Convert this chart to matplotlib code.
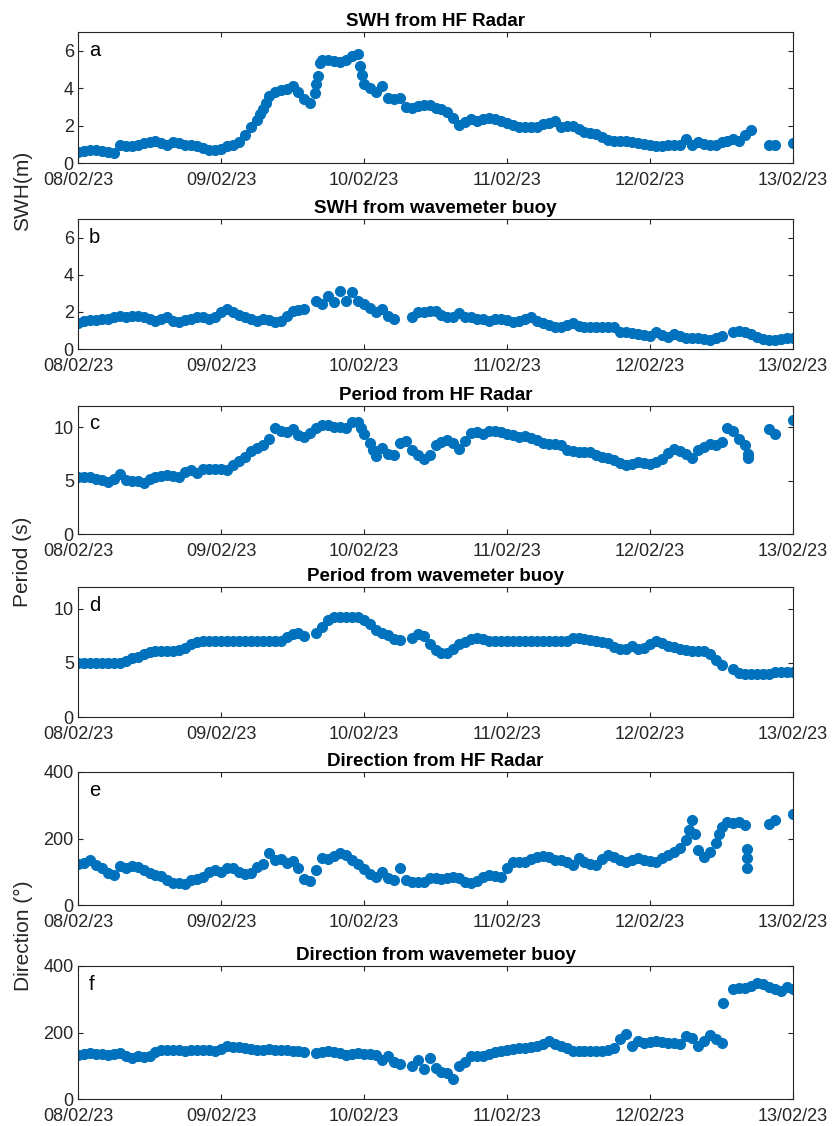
import numpy as np
import pandas as pd
import matplotlib
matplotlib.use("Agg")
import matplotlib.pyplot as plt
import matplotlib.dates as mdates

plt.rcParams['font.family'] = ['Liberation Sans', 'DejaVu Sans']

# hourly samples from 08/02/23 00:00 to 13/02/23 00:00 (121 values), nan = no data
swh_radar = [0.6, 0.65, 0.7, 0.7, 0.65, 0.6, 0.55, 0.95, 0.9, 0.9,
             0.95, 1.05, 1.1, 1.15, 1.05, 0.95, 1.1, 1.05, 0.95, 0.95,
             0.9, 0.8, 0.7, 0.7, 0.75, 0.9, 0.95, 1.1, 1.5, 1.9,
             2.3, 2.9, 3.6, 3.8, 3.9, 3.95, 4.1, 3.8, 3.4, 3.2,
             4.2, 5.5, 5.5, 5.45, 5.4, 5.5, 5.7, 5.85, 4.2, 4.0,
             3.8, 4.1, 3.5, 3.4, 3.45, 3.0, 2.95, 3.05, 3.1, 3.1,
             2.95, 2.9, 2.7, 2.4, 2.05, 2.2, 2.35, 2.25, 2.35, 2.4,
             2.35, 2.25, 2.15, 2.05, 1.9, 1.9, 1.95, 1.95, 2.1, 2.15,
             2.25, 1.95, 2.0, 2.0, 1.8, 1.65, 1.6, 1.55, 1.4, 1.25,
             1.2, 1.2, 1.2, 1.1, 1.05, 1.0, 0.95, 0.9, 0.9, 0.95,
             0.95, 0.98, 1.3, 0.95, 1.1, 1.0, 0.95, 0.95, 1.1, 1.15,
             1.3, 1.15, 1.5, 1.75, np.nan, np.nan, 0.97, 0.97, np.nan, np.nan, 1.05]
swh_radar_xh = [30.5, 31.5, 39.7, 40.3, 40.6, 47.3, 47.6]
swh_radar_x = [2.6, 3.2, 3.75, 4.65, 5.35, 5.2, 4.7]

swh_buoy = [1.39, 1.5, 1.55, 1.57, 1.6, 1.62, 1.75, 1.8, 1.75, 1.78,
            1.8, 1.7, 1.6, 1.53, 1.6, 1.7, 1.5, 1.44, 1.55, 1.62,
            1.7, 1.7, 1.62, 1.75, 1.98, 2.16, 2.0, 1.85, 1.7, 1.6,
            1.53, 1.6, 1.55, 1.44, 1.53, 1.8, 2.07, 2.1, 2.16, np.nan,
            2.6, 2.43, 2.88, 2.52, 3.15, 2.6, 3.06, 2.6, 2.4, 2.2,
            1.98, 2.16, 1.8, 1.62, np.nan, np.nan, 1.7, 1.98, 2.0, 2.05,
            2.07, 1.85, 1.75, 1.7, 1.93, 1.75, 1.7, 1.62, 1.6, 1.53,
            1.6, 1.62, 1.55, 1.44, 1.53, 1.6, 1.7, 1.5, 1.39, 1.3,
            1.2, 1.17, 1.3, 1.39, 1.25, 1.2, 1.2, 1.2, 1.2, 1.2,
            1.2, 0.94, 0.9, 0.85, 0.8, 0.77, 0.72, 0.9, 0.75, 0.67,
            0.81, 0.7, 0.6, 0.6, 0.58, 0.55, 0.49, 0.6, 0.72, np.nan,
            0.9, 0.95, 0.9, 0.8, 0.65, 0.55, 0.49, 0.5, 0.54, 0.58, 0.6]
swh_buoy_xh = []
swh_buoy_x = []

period_radar = [5.36, 5.36, 5.3, 5.2, 5.1, 4.9, 5.2, 5.67, 5.1, 5.0,
                4.95, 4.8, 5.2, 5.3, 5.4, 5.5, 5.4, 5.3, 5.8, 6.0,
                5.75, 6.1, 6.05, 6.05, 6.14, 6.0, 6.5, 6.8, 7.2, 7.8,
                8.1, 8.3, 8.9, 9.9, 9.7, 9.6, 9.8, 9.3, 9.1, 9.5,
                9.9, 10.2, 10.2, 10.0, 10.0, 9.95, 10.5, 10.5, 9.4, 8.5,
                7.3, 8.1, 7.5, 7.4, 8.5, 8.7, 7.85, 7.4, 7.0, 7.4,
                8.3, 8.6, 8.8, 8.5, 8.0, 8.7, 9.5, 9.6, 9.4, 9.7,
                9.65, 9.6, 9.4, 9.3, 9.1, 9.2, 9.0, 8.8, 8.5, 8.4,
                8.4, 8.3, 7.9, 7.8, 7.7, 7.7, 7.7, 7.4, 7.2, 7.1,
                6.9, 6.7, 6.5, 6.6, 6.76, 6.65, 6.6, 6.76, 7.0, 7.6,
                8.0, 7.8, 7.5, 7.1, 7.9, 8.2, 8.4, 8.3, 8.6, 9.9,
                9.7, 8.9, 8.3, np.nan, np.nan, np.nan, 9.8, 9.4, np.nan, np.nan, 10.7]
period_radar_xh = [47.5, 49.5, 112.4, 112.5]
period_radar_x = [9.9, 7.9, 7.5, 7.1]

period_buoy = [5.0, 5.0, 5.0, 5.0, 5.0, 5.0, 5.0, 5.0, 5.2, 5.45,
               5.55, 5.8, 6.0, 6.05, 6.1, 6.1, 6.1, 6.15, 6.4, 6.7,
               6.95, 7.05, 7.05, 7.05, 7.05, 7.05, 7.05, 7.05, 7.05, 7.05,
               7.05, 7.05, 7.05, 7.05, 7.05, 7.4, 7.7, 7.75, 7.5, np.nan,
               7.8, 8.3, 9.0, 9.2, 9.25, 9.25, 9.25, 9.2, 9.0, 8.6,
               8.0, 7.8, 7.6, 7.2, 7.15, np.nan, 7.25, 7.7, 7.5, 6.7,
               6.2, 5.95, 5.9, 6.3, 6.7, 6.9, 7.2, 7.25, 7.2, 7.05,
               7.05, 7.05, 7.05, 7.05, 7.05, 7.05, 7.05, 7.05, 7.05, 7.05,
               7.05, 7.05, 7.05, 7.3, 7.3, 7.2, 7.1, 7.05, 6.95, 6.8,
               6.5, 6.3, 6.25, 6.6, 6.3, 6.4, 6.7, 7.05, 6.85, 6.6,
               6.45, 6.3, 6.2, 6.05, 6.05, 6.05, 5.8, 5.3, 4.8, np.nan,
               4.4, 4.05, 3.95, 3.95, 3.95, 3.95, 3.95, 4.2, 4.2, 4.2, 4.2]
period_buoy_xh = []
period_buoy_x = []

dir_radar = [123, 125, 135, 120, 112, 95, 90, 118, 110, 117,
             115, 105, 97, 90, 87, 75, 67, 65, 62, 75,
             77, 85, 100, 105, 100, 110, 112, 100, 92, 95,
             115, 122, 155, 135, 138, 125, 133, 110, 78, 72,
             105, 140, 138, 148, 155, 150, 135, 122, 108, 92,
             85, 98, 80, 75, 110, 75, 68, 70, 70, 80,
             80, 78, 82, 85, 80, 70, 65, 72, 85, 90,
             87, 85, 110, 130, 130, 128, 138, 145, 148, 145,
             135, 135, 130, 120, 140, 128, 122, 120, 138, 150,
             145, 135, 128, 135, 140, 135, 133, 130, 142, 150,
             160, 172, 195, 255, 165, 145, 160, 185, 235, 250,
             248, 250, 240, np.nan, np.nan, np.nan, 245, 257, np.nan, np.nan, 273]
dir_radar_xh = [102.5, 103.5, 107.5, 112.2, 112.2, 112.2]
dir_radar_x = [225, 215, 215, 167, 140, 112]

dir_buoy = [133, 135, 138, 136, 135, 133, 136, 138, 128, 123,
            130, 125, 130, 140, 148, 146, 148, 148, 145, 146,
            148, 147, 148, 145, 150, 158, 156, 155, 153, 150,
            148, 146, 150, 148, 146, 146, 144, 143, 140, np.nan,
            138, 140, 143, 140, 138, 133, 136, 138, 136, 136,
            133, 118, 128, 112, 106, np.nan, 100, 118, 90, 123,
            93, 80, 78, 60, 100, 110, 128, 128, 130, 136,
            140, 143, 148, 150, 153, 153, 155, 160, 165, 174,
            164, 158, 153, 145, 143, 143, 143, 143, 145, 148,
            153, 181, 194, 159, 174, 169, 172, 174, 170, 169,
            167, 165, 189, 184, 159, 174, 191, 179, 169, np.nan,
            332, 335, 335, 340, 350, 345, 338, 332, 325, 337, 332]
dir_buoy_xh = [108.2]
dir_buoy_x = [290]

titles = ['SWH from HF Radar', 'SWH from wavemeter buoy',
          'Period from HF Radar', 'Period from wavemeter buoy',
          'Direction from HF Radar', 'Direction from wavemeter buoy']
letters = ['a', 'b', 'c', 'd', 'e', 'f']
ylabels = ['SWH(m)', 'Period (s)', 'Direction (°)']

start = pd.Timestamp('2023-02-08')
times = start + pd.to_timedelta(np.arange(121), unit='h')

series = [(swh_radar, swh_radar_xh, swh_radar_x),
          (swh_buoy, swh_buoy_xh, swh_buoy_x),
          (period_radar, period_radar_xh, period_radar_x),
          (period_buoy, period_buoy_xh, period_buoy_x),
          (dir_radar, dir_radar_xh, dir_radar_x),
          (dir_buoy, dir_buoy_xh, dir_buoy_x)]

# axes boxes in pixels (top, bottom) of an 832x1126 figure
boxes = [(32, 163), (219, 349), (406, 534), (587, 717), (772, 905), (966, 1099)]
ylims = [(0, 7), (0, 7), (0, 12), (0, 12), (0, 400), (0, 400)]
yticks = [[0, 2, 4, 6], [0, 2, 4, 6], [0, 5, 10], [0, 5, 10], [0, 200, 400], [0, 200, 400]]

blue = '#0072BD'
grey = '#262626'
ms = 7

fig = plt.figure(figsize=(8.32, 11.26), dpi=100)
W, H = 832, 1126
for i, (vals, xh, xv) in enumerate(series):
    top, bot = boxes[i]
    ax = fig.add_axes([78 / W, 1 - bot / H, 715 / W, (bot - top) / H])
    ax.plot(times, vals, 'o', color=blue, ms=ms, mec=blue)
    if xh:
        ax.plot(start + pd.to_timedelta(np.array(xh), unit='h'), xv, 'o',
                color=blue, ms=ms, mec=blue)
    ax.set_xlim(start, start + pd.Timedelta(days=5))
    ax.set_ylim(*ylims[i])
    ax.set_yticks(yticks[i])
    ax.xaxis.set_major_locator(mdates.DayLocator())
    ax.xaxis.set_major_formatter(mdates.DateFormatter('%d/%m/%y'))
    ax.tick_params(direction='in', top=True, right=True, length=3.6, width=0.8,
                   color=grey, labelcolor=grey, labelsize=13)
    ax.tick_params(axis='x', pad=6.5)
    ax.tick_params(axis='y', pad=3)
    for s in ax.spines.values():
        s.set_color(grey)
        s.set_linewidth(0.8)
    ax.set_title(titles[i], fontsize=13.5, fontweight='bold', pad=4)
    ax.text(0.015, 0.86, letters[i], transform=ax.transAxes, fontsize=14.5,
            ha='left', va='center', color='black')

# shared y labels, centred between each pair of panels
for k, lab in enumerate(ylabels):
    y_mid = (boxes[2 * k][0] + boxes[2 * k + 1][1]) / 2
    fig.text(23 / W, 1 - y_mid / H, lab, rotation=90, fontsize=15,
             ha='center', va='center', color=grey)

fig.savefig('out.png', dpi=100)
